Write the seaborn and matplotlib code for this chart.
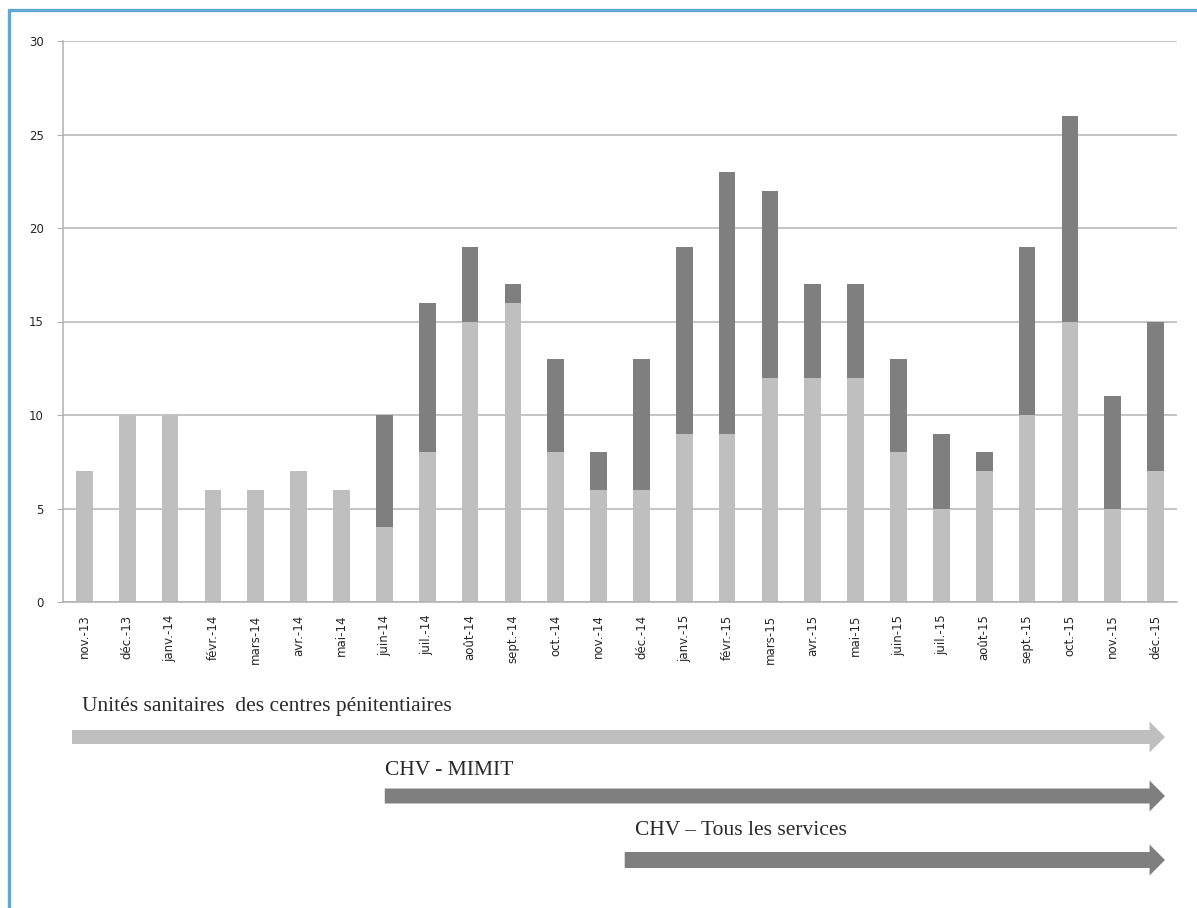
import numpy as np
import pandas as pd
import matplotlib.pyplot as plt
import seaborn as sns
from matplotlib.lines import Line2D
from matplotlib.patches import FancyArrow

# Monthly counts
months = ['nov.-13', 'déc.-13', 'janv.-14', 'févr.-14', 'mars-14', 'avr.-14', 'mai-14',
          'juin-14', 'juil.-14', 'août-14', 'sept.-14', 'oct.-14', 'nov.-14', 'déc.-14',
          'janv.-15', 'févr.-15', 'mars-15', 'avr.-15', 'mai-15', 'juin-15', 'juil.-15',
          'août-15', 'sept.-15', 'oct.-15', 'nov.-15', 'déc.-15']
light_vals = [7, 10, 10, 6, 6, 7, 6, 4, 8, 15, 16, 8, 6, 6, 9, 9, 12, 12, 12, 8, 5, 7, 10, 15, 5, 7]
total_vals = [7, 10, 10, 6, 6, 7, 6, 10, 16, 19, 17, 13, 8, 13, 19, 23, 22, 17, 17, 13, 9, 8, 19, 26, 11, 15]

periods = ['Unités sanitaires  des centres pénitentiaires', 'CHV - MIMIT', 'CHV – Tous les services']
period_start = [-0.29, 7.01, 12.61]

df = pd.DataFrame({'mois': months, 'light': light_vals, 'total': total_vals})

sns.set_style('white')
light_col = '#bfbfbf'
dark_col = '#7f7f7f'

fig = plt.figure(figsize=(11.97, 9.08), dpi=100)
ax = fig.add_axes([63 / 1197, 1 - 602 / 908, (1177 - 63) / 1197, (602 - 41) / 908])

# stacked bars: draw totals in dark, then the light part on top
sns.barplot(data=df, x='mois', y='total', color=dark_col, width=0.39, saturation=1,
            linewidth=0, edgecolor='none', ax=ax)
sns.barplot(data=df, x='mois', y='light', color=light_col, width=0.39, saturation=1,
            linewidth=0, edgecolor='none', ax=ax)

ax.set_xlim(-0.5, len(months) - 0.5)
ax.set_ylim(0, 30)
ax.set_yticks(range(0, 31, 5))
ax.grid(axis='y', color='#b5b5b5', linewidth=1.1)
ax.set_axisbelow(True)
ax.set_xlabel('')
ax.set_ylabel('')
for s in ['top', 'right']:
    ax.spines[s].set_visible(False)
for s in ['left', 'bottom']:
    ax.spines[s].set_color('#b0b0b0')
    ax.spines[s].set_linewidth(1.1)

ax.set_xticks(range(len(months)))
ax.set_xticklabels(months, rotation=90, fontsize=8.5, color='#262626')
ax.tick_params(axis='x', which='major', length=0, pad=9)
ax.set_xticks(np.arange(-0.5, len(months), 1), minor=True)
ax.tick_params(axis='x', which='minor', length=4, color='#b0b0b0', direction='out')
ax.tick_params(axis='y', length=4, color='#b0b0b0', labelsize=8.5, labelcolor='#262626', left=True, pad=10)

# period arrows below the chart
ax2 = fig.add_axes([63 / 1197, 0, (1177 - 63) / 1197, 218 / 908])
ax2.set_xlim(-0.5, len(months) - 0.5)
ax2.set_ylim(908, 690)
ax2.axis('off')

arrow_y = [737, 796, 860]
text_y = [707, 771, 831]
text_x = [-0.06, 7.01, 12.85]
arrow_cols = [light_col, dark_col, dark_col]
shaft = [14, 15, 16]
end_x = 25.22
for i in range(3):
    ar = FancyArrow(period_start[i], arrow_y[i], end_x - period_start[i], 0,
                    width=shaft[i], head_width=31, head_length=0.36,
                    length_includes_head=True, color=arrow_cols[i], lw=0)
    ax2.add_patch(ar)
    ax2.text(text_x[i], text_y[i], periods[i], family='Liberation Serif',
             fontsize=15.5, color='#2a2a2a', va='center', ha='left')

# blue frame on left and top
fig.add_artist(Line2D([9 / 1197, 9 / 1197], [0, 1 - 10 / 908], color='#62a8d0', lw=2.4))
fig.add_artist(Line2D([9 / 1197, 1], [1 - 10 / 908, 1 - 10 / 908], color='#62a8d0', lw=2.4))

plt.savefig('out.png', dpi=100)
